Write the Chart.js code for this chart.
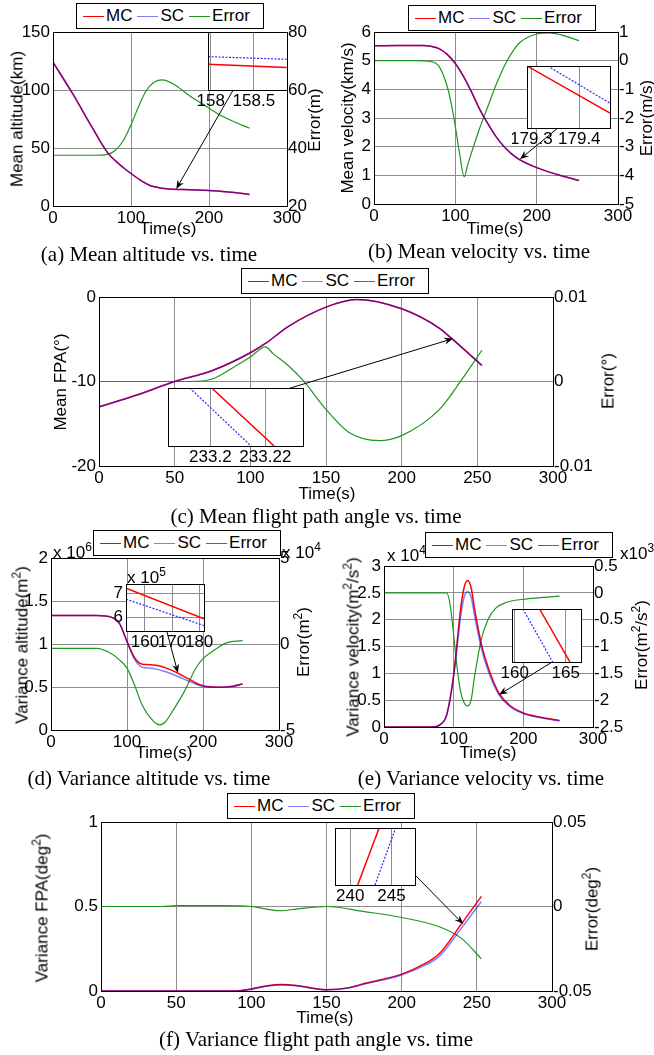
<!DOCTYPE html>
<html>
<head>
<meta charset="utf-8">
<script src="https://cdn.jsdelivr.net/npm/chart.js@4.4.0/dist/chart.umd.min.js"></script>
<style>
body { margin: 0; background: #fff; }
#page { position: relative; width: 654px; height: 1055px; overflow: hidden; background: #fff;
        font-family: "Liberation Sans", Arial, sans-serif; }
canvas { position: absolute; }
.lbl { position: absolute; font-size: 17px; color: #000; white-space: nowrap; line-height: 1; }
.c { transform: translate(-50%, -50%); }
.v { transform: translate(-50%, -50%) rotate(-90deg); }
.cap { position: absolute; font-family: "Liberation Serif", "Times New Roman", serif; font-size: 21px;
       white-space: nowrap; line-height: 1; transform: translate(-50%, -50%); }
sup { font-size: 12px; vertical-align: 7px; line-height: 0; }
.leg { position: absolute; width: 186px; height: 24px; border: 1px solid #000; background: #fff;
       font-size: 17px; line-height: 24px; white-space: nowrap; box-sizing: content-box; }
.leg .sw { display: inline-block; width: 21px; height: 1px; vertical-align: middle; margin: 0 2px 0 0; }
.leg .tx { display: inline-block; margin-right: 5px; }
</style>
</head>
<body>
<div id="page"></div>
<script>
// ---- values (main curves) ----

// (a) mean altitude (km), error (m)
const tA = [0, 25, 50, 70, 85, 100, 115, 125, 137, 150, 175, 200, 225, 252];
const mcA = [124, 97, 68, 46, 36, 28, 21, 17.5, 15.6, 14.7, 14, 13.4, 12, 10];
const scA = [124, 97, 68, 46, 36, 28, 21, 17.5, 15.6, 14.7, 14, 13.4, 12, 10];
const tErrA = [0, 50, 70, 80, 90, 100, 110, 120, 130, 140, 155, 175, 190, 210, 230, 252];
const errA = [37.5, 37.5, 37.8, 39.2, 42.5, 48, 54.5, 60, 62.8, 63.5, 62, 58, 55.5, 52, 49.3, 46.8];

// (b) mean velocity (km/s), error (m/s)
const tB = [0, 30, 60, 70, 80, 90, 100, 110, 120, 130, 140, 150, 160, 175, 200, 225, 252];
const mcB = [5.52, 5.53, 5.53, 5.5, 5.42, 5.22, 4.9, 4.45, 3.9, 3.3, 2.8, 2.35, 2.0, 1.62, 1.27, 1.03, 0.82];
const scB = [5.52, 5.53, 5.53, 5.5, 5.42, 5.22, 4.9, 4.45, 3.9, 3.3, 2.8, 2.35, 2.0, 1.62, 1.27, 1.03, 0.82];
const tErrB = [0, 50, 70, 80, 90, 95, 100, 105, 111, 115, 120, 130, 140, 150, 160, 170, 180, 200, 215, 230, 252];
const errB = [0, 0, -0.03, -0.2, -0.9, -1.5, -2.3, -3.2, -4.05, -3.65, -3.2, -2.35, -1.6, -0.85, -0.2, 0.3, 0.65, 0.93, 0.97, 0.9, 0.7];

// (c) mean flight path angle (deg), error (deg)
const tC = [0, 25, 50, 75, 100, 110, 125, 150, 170, 200, 225, 233, 253];
const mcC = [-13, -11.6, -10.0, -8.7, -6.6, -5.5, -3.5, -1.2, -0.3, -1.4, -3.7, -4.9, -8.1];
const scC = [-13, -11.6, -10.0, -8.7, -6.6, -5.5, -3.5, -1.2, -0.3, -1.4, -3.7, -4.9, -8.1];
const tErrC = [0, 60, 75, 90, 100, 110, 115, 125, 135, 150, 165, 185, 200, 225, 240, 253];
const errC = [0, 0, 0.0003, 0.0018, 0.0029, 0.0041, 0.0033, 0.0019, 0.0001, -0.0033, -0.006, -0.007, -0.0064, -0.0033, 0.0003, 0.0037];

// (d) variance altitude (x1e6 m^2), error (x1e4 m^2)
const tD = [0, 60, 80, 90, 100, 110, 120, 130, 140, 150, 160, 170, 180, 190, 200, 220, 240, 252];
const mcD = [1.33, 1.33, 1.31, 1.24, 1.03, 0.84, 0.765, 0.76, 0.75, 0.725, 0.69, 0.645, 0.6, 0.55, 0.515, 0.498, 0.51, 0.535];
const scD = [1.33, 1.33, 1.31, 1.24, 1.03, 0.82, 0.73, 0.72, 0.705, 0.68, 0.648, 0.61, 0.573, 0.535, 0.508, 0.497, 0.51, 0.535];
const tErrD = [0, 60, 75, 90, 100, 110, 120, 135, 143, 150, 160, 175, 190, 200, 215, 230, 252];
const errD = [-0.25, -0.25, -0.45, -0.92, -1.4, -2.4, -3.55, -4.5, -4.7, -4.55, -3.9, -2.8, -1.45, -0.85, -0.35, 0.05, 0.2];

// (e) variance velocity (x1e4 m^2/s^2), error (x1e3 m^2/s^2)
const tE = [0, 70, 80, 90, 100, 110, 115, 120, 125, 130, 140, 150, 165, 180, 200, 225, 252];
const mcE = [0, 0, 0.04, 0.23, 0.97, 2.2, 2.6, 2.73, 2.6, 2.2, 1.53, 1.09, 0.63, 0.41, 0.26, 0.18, 0.12];
const scE = [0, 0, 0.04, 0.22, 0.95, 2.05, 2.42, 2.52, 2.42, 2.08, 1.45, 1.03, 0.6, 0.39, 0.25, 0.17, 0.115];
const tErrE = [0, 90, 95, 100, 105, 110, 115, 120, 125, 130, 140, 150, 160, 175, 200, 225, 252];
const errE = [0, 0, -0.23, -0.79, -1.4, -1.84, -2.05, -2.11, -2.0, -1.56, -0.85, -0.48, -0.29, -0.18, -0.12, -0.09, -0.06];

// (f) variance flight path angle (deg^2), error (deg^2)
const tF = [0, 90, 100, 110, 120, 130, 140, 150, 165, 175, 200, 215, 225, 240, 253];
const mcF = [0, 0, 0.012, 0.03, 0.038, 0.033, 0.018, 0.008, 0.02, 0.044, 0.10, 0.16, 0.22, 0.40, 0.56];
const scF = [0, 0, 0.011, 0.028, 0.036, 0.031, 0.017, 0.007, 0.018, 0.04, 0.095, 0.15, 0.205, 0.375, 0.53];
const tErrF = [0, 40, 50, 80, 100, 110, 120, 130, 150, 175, 200, 225, 240, 253];
const errF = [0, 0, 0.0005, 0.0005, 0, -0.0015, -0.0025, -0.0015, 0, -0.003, -0.0065, -0.012, -0.019, -0.031];

// ---- zoomed insets ----
const inTmcA = [157.97, 158.88], inMcA = [14.589, 14.578];
const inTscA = [157.97, 158.88], inScA = [14.615, 14.606];
const inTmcB = [179.291, 179.464], inMcB = [1.560, 1.5524];
const inTscB = [179.334, 179.464], inScB = [1.560, 1.554];
const inTmcC = [233.2005, 233.2232], inMcC = [-4.880, -4.884];
const inTscC = [233.1925, 233.2148], inScC = [-4.880, -4.884];
const inTmcD = [153.0, 181.8], inMcD = [7.2, 5.95];        // x1e5
const inTscD = [153.0, 181.8], inScD = [6.75, 5.67];
const inTmcE = [162.44, 165.42], inMcE = [0.64, 0.56];
const inTscE = [160.81, 163.73], inScE = [0.64, 0.56];
const inTmcF = [240.9, 243.5], inMcF = [0.405, 0.435];
const inTscF = [243.0, 245.5], inScF = [0.405, 0.435];

// ---- style ----
const RED = 'rgb(255,0,0)';
const BLUE = 'rgba(0,0,255,0.5)';
const GREEN = 'rgb(30,150,30)';
const LEG_COLORS = ['#ff0000', '#8080ff', '#1e961e'];
const GRID = '#8c8c8c';
const FONT = '"Liberation Sans", Arial, sans-serif';
const YW = 35, XH = 20;

Chart.defaults.font.family = FONT;
Chart.defaults.font.size = 17;
Chart.defaults.color = '#000';

const page = document.getElementById('page');

function pts(ts, vs) {
    return ts.map((t, i) => ({ x: t, y: vs[i] }));
}

// plain tick text: 1 instead of 1.0
const plain = v => String(Math.round(v * 1e6) / 1e6);

function place(box) {
    const cv = document.createElement('canvas');
    cv.width = box[2];
    cv.height = box[3];
    cv.style.left = box[0] + 'px';
    cv.style.top = box[1] + 'px';
    page.appendChild(cv);
    return cv;
}

// black axes box on top of the data (and white paper for insets)
const framePlugin = {
    id: 'frame',
    beforeDraw(chart, args, o) {
        if (!o.paper) return;
        const a = chart.chartArea;
        chart.ctx.save();
        chart.ctx.fillStyle = '#fff';
        chart.ctx.fillRect(a.left, a.top, a.right - a.left, a.bottom - a.top);
        chart.ctx.restore();
    },
    afterDatasetsDraw(chart) {
        const a = chart.chartArea, ctx = chart.ctx;
        ctx.save();
        ctx.strokeStyle = '#000';
        ctx.lineWidth = 1;
        ctx.strokeRect(Math.round(a.left) + 0.5, Math.round(a.top) + 0.5,
                       Math.round(a.right - a.left), Math.round(a.bottom - a.top));
        ctx.restore();
    }
};

// arrow from the inset to the zoomed spot
const arrowPlugin = {
    id: 'pointer',
    afterDatasetsDraw(chart, args, o) {
        if (!o.from) return;
        const sx = chart.scales.x, sy = chart.scales.y, ctx = chart.ctx;
        const x1 = sx.getPixelForValue(o.from[0]), y1 = sy.getPixelForValue(o.from[1]);
        const x2 = sx.getPixelForValue(o.to[0]), y2 = sy.getPixelForValue(o.to[1]);
        const ang = Math.atan2(y2 - y1, x2 - x1);
        const c = Math.cos(ang), s = Math.sin(ang);
        ctx.save();
        ctx.strokeStyle = '#000';
        ctx.fillStyle = '#000';
        ctx.lineWidth = 1;
        ctx.beginPath();
        ctx.moveTo(x1, y1);
        ctx.lineTo(x2 - c * 6, y2 - s * 6);
        ctx.stroke();
        ctx.beginPath();
        ctx.moveTo(x2, y2);
        ctx.lineTo(x2 - c * 9 - s * 3.5, y2 - s * 9 + c * 3.5);
        ctx.lineTo(x2 - c * 6, y2 - s * 6);
        ctx.lineTo(x2 - c * 9 + s * 3.5, y2 - s * 9 - c * 3.5);
        ctx.closePath();
        ctx.fill();
        ctx.restore();
    }
};

// MATLAB style boxed legend, built from the chart's own datasets
function legendFor(chart, at) {
    const d = document.createElement('div');
    d.className = 'leg';
    d.style.left = at[0] + 'px';
    d.style.top = at[1] + 'px';
    d.style.paddingLeft = '6px';
    d.style.width = '180px';
    chart.data.datasets.forEach((ds, i) => {
        const sw = document.createElement('span');
        sw.className = 'sw';
        sw.style.background = LEG_COLORS[i];
        const tx = document.createElement('span');
        tx.className = 'tx';
        tx.textContent = ds.label;
        d.appendChild(sw);
        d.appendChild(tx);
    });
    page.appendChild(d);
}

function mainChart(p) {
    const cv = place(p.box);
    const [L, T, R, B] = p.plot;
    const [bx, by, bw, bh] = p.box;
    const y2w = p.y2w;
    const chart = new Chart(cv, {
        type: 'line',
        data: {
            datasets: [
                { label: 'MC', data: pts(p.t, p.mc), borderColor: RED, borderWidth: 1.5, order: 1 },
                { label: 'SC', data: pts(p.t, p.sc), borderColor: BLUE, borderWidth: 1.5, order: 0 },
                { label: 'Error', data: pts(p.te, p.err), borderColor: GREEN, borderWidth: 1.2, yAxisID: 'y2', order: 2 }
            ]
        },
        options: {
            responsive: false,
            animation: false,
            events: [],
            layout: { padding: { left: L - bx - YW, top: T - by, right: bx + bw - R - y2w, bottom: by + bh - B - XH } },
            elements: {
                point: { radius: 0 },
                line: { tension: 0.4, cubicInterpolationMode: 'monotone', fill: false }
            },
            plugins: {
                legend: { display: false },
                tooltip: { enabled: false },
                pointer: { from: p.arrow[0], to: p.arrow[1] }
            },
            scales: {
                x: {
                    type: 'linear', min: 0, max: 300,
                    ticks: { stepSize: p.xStep, padding: 2, maxRotation: 0, autoSkip: false, callback: plain },
                    grid: { color: GRID, drawTicks: false },
                    border: { display: false },
                    afterFit: s => { s.height = XH; s.paddingLeft = 0; s.paddingRight = 0; }
                },
                y: {
                    position: 'left', min: p.yl[0], max: p.yl[1],
                    ticks: { stepSize: p.yl[2], padding: 3, callback: plain },
                    grid: { color: GRID, drawTicks: false },
                    border: { display: false },
                    afterFit: s => { s.width = YW; s.paddingTop = 0; s.paddingBottom = 0; }
                },
                y2: {
                    position: 'right', min: p.yr[0], max: p.yr[1],
                    ticks: { stepSize: p.yr[2], padding: 1, callback: plain },
                    grid: { display: false, drawTicks: false },
                    border: { display: false },
                    afterFit: s => { s.width = y2w; s.paddingTop = 0; s.paddingBottom = 0; }
                }
            }
        },
        plugins: [framePlugin, arrowPlugin]
    });
    legendFor(chart, p.legend);
    return chart;
}

function insetChart(p) {
    const [L, T, R, B] = p.plot;
    const box = [L - 15, T - 1, R - L + 30, B - T + 22];
    const cv = place(box);
    const yw = p.yt ? 15 : 0;
    return new Chart(cv, {
        type: 'line',
        data: {
            datasets: [
                { data: pts(p.tmc, p.mc), borderColor: RED, borderWidth: 1.5 },
                { data: pts(p.tsc, p.sc), borderColor: 'rgb(40,40,255)', borderWidth: 1.2, borderDash: [2, 1.5] }
            ]
        },
        options: {
            responsive: false,
            animation: false,
            events: [],
            layout: { padding: { left: L - box[0] - yw, top: 1, right: box[0] + box[2] - R, bottom: box[1] + box[3] - B - 18 } },
            elements: { point: { radius: 0 }, line: { tension: 0 } },
            plugins: { legend: { display: false }, tooltip: { enabled: false }, frame: { paper: true } },
            scales: {
                x: {
                    type: 'linear', min: p.x[0], max: p.x[1],
                    afterBuildTicks: s => { s.ticks = p.xt.map(v => ({ value: v })); },
                    ticks: { padding: 1, maxRotation: 0, autoSkip: false, callback: v => String(v) },
                    grid: { color: GRID, drawTicks: false },
                    border: { display: false },
                    afterFit: s => { s.height = 18; s.paddingLeft = 0; s.paddingRight = 0; }
                },
                y: {
                    min: p.y[0], max: p.y[1],
                    afterBuildTicks: s => { s.ticks = (p.yt || []).map(v => ({ value: v })); },
                    ticks: { display: !!p.yt, padding: 3, callback: v => String(v) },
                    grid: { display: !!p.yt, color: GRID, drawTicks: false },
                    border: { display: false },
                    afterFit: s => { s.width = yw; s.paddingTop = 0; s.paddingBottom = 0; }
                }
            }
        },
        plugins: [framePlugin]
    });
}

// ---- main panels ----
mainChart({ box: [0, 0, 327, 245], plot: [53, 32, 287, 206], legend: [76, 3], y2w: 28,
    t: tA, mc: mcA, sc: scA, te: tErrA, err: errA,
    xStep: 100, yl: [0, 150, 50], yr: [20, 80, 20], arrow: [[231, 100], [158, 14.7]] });
mainChart({ box: [327, 0, 327, 245], plot: [374, 32, 618, 204], legend: [408, 5], y2w: 28,
    t: tB, mc: mcB, sc: scB, te: tErrB, err: errB,
    xStep: 100, yl: [0, 6, 1], yr: [-5, 1, 1], arrow: [[226, 2.65], [179.4, 1.56]] });
mainChart({ box: [0, 262, 654, 240], plot: [99, 297, 553, 466], legend: [241, 268], y2w: 48,
    t: tC, mc: mcC, sc: scC, te: tErrC, err: errC,
    xStep: 50, yl: [-20, 0, 10], yr: [-0.01, 0.01, 0.01], arrow: [[126, -10.8], [234, -4.92]] });
mainChart({ box: [0, 525, 327, 240], plot: [51, 558, 279, 730], legend: [93, 530], y2w: 28,
    t: tD, mc: mcD, sc: scD, te: tErrD, err: errD,
    xStep: 100, yl: [0, 2, 0.5], yr: [-5, 5, 5], arrow: [[152.6, 1.14], [167, 0.663]] });
mainChart({ box: [327, 525, 327, 240], plot: [384, 566, 593, 727], legend: [425, 532], y2w: 40,
    t: tE, mc: mcE, sc: scE, te: tErrE, err: errE,
    xStep: 100, yl: [0, 3, 0.5], yr: [-2.5, 0.5, 0.5], arrow: [[242.6, 1.22], [165, 0.6]] });
mainChart({ box: [0, 790, 654, 235], plot: [101, 822, 552, 991], legend: [227, 793], y2w: 48,
    t: tF, mc: mcF, sc: scF, te: tErrF, err: errF,
    xStep: 50, yl: [0, 1, 0.5], yr: [-0.05, 0.05, 0.05], arrow: [[208.9, 0.686], [241, 0.396]] });

// ---- insets ----
insetChart({ plot: [208, 32, 287, 90], x: [157.969, 158.884], xt: [158, 158.5], y: [14.5, 14.7],
    tmc: inTmcA, mc: inMcA, tsc: inTscA, sc: inScA });
insetChart({ plot: [527, 66, 610, 128], x: [179.291, 179.464], xt: [179.3, 179.4], y: [1.55, 1.56],
    tmc: inTmcB, mc: inMcB, tsc: inTscB, sc: inScB });
insetChart({ plot: [168, 388, 303, 446], x: [233.1846, 233.2337], xt: [233.2, 233.22], y: [-4.884, -4.880],
    tmc: inTmcC, mc: inMcC, tsc: inTscC, sc: inScC });
insetChart({ plot: [126, 584, 204, 631], x: [153.0, 181.8], xt: [160, 170, 180], y: [5.45, 7.37], yt: [6, 7],
    tmc: inTmcD, mc: inMcD, tsc: inTscD, sc: inScD });
insetChart({ plot: [512, 609, 581, 662], x: [159.74, 166.5], xt: [160, 165], y: [0.56, 0.64],
    tmc: inTmcE, mc: inMcE, tsc: inTscE, sc: inScE });
insetChart({ plot: [335, 828, 415, 885], x: [238.15, 247.85], xt: [240, 245], y: [0.405, 0.435],
    tmc: inTmcF, mc: inMcF, tsc: inTscF, sc: inScF });

// ---- texts ----
const texts = [
    ['v', 17, 119, 'Mean altitude(km)'], ['v', 314, 120, 'Error(m)'], ['c', 168, 228, 'Time(s)'],
    ['v', 347, 118, 'Mean velocity(km/s)'], ['v', 646, 118, 'Error(m/s)'], ['c', 495, 228, 'Time(s)'],
    ['v', 60, 382, 'Mean FPA(°)'], ['v', 608, 381, 'Error(°)'], ['c', 327, 493, 'Time(s)'],
    ['v', 22, 645, 'Variance altitude(m<sup>2</sup>)'], ['v', 303, 642, 'Error(m<sup>2</sup>)'], ['c', 164, 752, 'Time(s)'],
    ['v', 353, 647, 'Variance velocity(m<sup>2</sup>/s<sup>2</sup>)'], ['v', 641, 645, 'Error(m<sup>2</sup>/s<sup>2</sup>)'], ['c', 488, 752, 'Time(s)'],
    ['v', 42, 908, 'Variance FPA(deg<sup>2</sup>)'], ['v', 592, 909, 'Error(deg<sup>2</sup>)'], ['c', 325, 1017, 'Time(s)']
];
texts.forEach(([k, x, y, html]) => {
    const d = document.createElement('div');
    d.className = 'lbl ' + k;
    d.style.left = x + 'px';
    d.style.top = y + 'px';
    d.innerHTML = html;
    page.appendChild(d);
});

const exps = [[53, 544, 'x 10<sup>6</sup>'], [282, 544, 'x 10<sup>4</sup>'], [387, 547, 'x 10<sup>4</sup>'],
              [620, 545, 'x10<sup>3</sup>'], [127, 569, 'x 10<sup>5</sup>']];
exps.forEach(([x, y, html]) => {
    const d = document.createElement('div');
    d.className = 'lbl';
    d.style.left = x + 'px';
    d.style.top = y + 'px';
    d.innerHTML = html;
    page.appendChild(d);
});

const captions = [
    [149, 254, '(a) Mean altitude vs. time'], [479, 251, '(b) Mean velocity vs. time'],
    [316, 516, '(c) Mean flight path angle vs. time'], [149, 778, '(d) Variance altitude vs. time'],
    [481, 778, '(e) Variance velocity vs. time'], [316, 1039, '(f) Variance flight path angle vs. time']
];
captions.forEach(([x, y, txt]) => {
    const d = document.createElement('div');
    d.className = 'cap';
    d.style.left = x + 'px';
    d.style.top = y + 'px';
    d.textContent = txt;
    page.appendChild(d);
});
</script>
</body>
</html>
